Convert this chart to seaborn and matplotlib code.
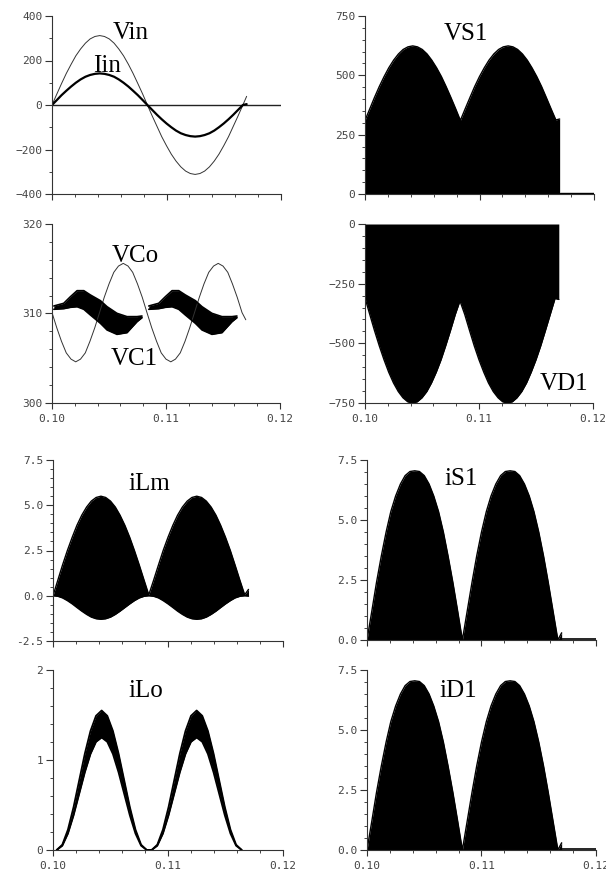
import matplotlib.pyplot as plt
import seaborn as sns
from matplotlib.ticker import MultipleLocator, FixedLocator

# waveforms, time in seconds
t = [0.10000, 0.10042, 0.10083, 0.10125, 0.10167, 0.10208, 0.10250, 0.10292, 0.10333, 0.10375,
     0.10417, 0.10458, 0.10500, 0.10542, 0.10583, 0.10625, 0.10667, 0.10708, 0.10750, 0.10792,
     0.10833, 0.10875, 0.10917, 0.10958, 0.11000, 0.11042, 0.11083, 0.11125, 0.11167, 0.11208,
     0.11250, 0.11292, 0.11333, 0.11375, 0.11417, 0.11458, 0.11500, 0.11542, 0.11583, 0.11625,
     0.11667, 0.11700]

vin = [0, 49, 96, 142, 183, 221, 252, 278, 297, 308, 312, 308, 297, 278, 252, 221, 183, 142, 96, 49,
       0, -49, -96, -142, -183, -221, -252, -278, -297, -308, -312, -308, -297, -278, -252, -221, -183,
       -142, -96, -49, 0, 39]
iin = [0, 22, 44, 64, 83, 100, 115, 127, 135, 140, 142, 140, 135, 127, 115, 100, 83, 64, 44, 22,
       0, -22, -44, -64, -83, -100, -115, -127, -135, -140, -142, -140, -135, -127, -115, -100, -83,
       -64, -44, -22, 0, 4]

vco = [310.1, 308.4, 306.9, 305.6, 304.9, 304.6, 304.9, 305.6, 306.9, 308.4, 310.1, 311.8, 313.3,
       314.6, 315.3, 315.6, 315.3, 314.6, 313.3, 311.8, 310.1, 308.4, 306.9, 305.6, 304.9, 304.6,
       304.9, 305.6, 306.9, 308.4, 310.1, 311.8, 313.3, 314.6, 315.3, 315.6, 315.3, 314.6, 313.3,
       311.8, 310.1, 309.3]

# VC1 ripple band (two segments, 12 samples each)
vc1_t = [0.10016, 0.10103, 0.10162, 0.10220, 0.10279, 0.10337, 0.10425, 0.10483, 0.10570, 0.10658,
         0.10746, 0.10789,
         0.10849, 0.10936, 0.10995, 0.11053, 0.11112, 0.11170, 0.11258, 0.11316, 0.11403, 0.11491,
         0.11579, 0.11622]
vc1_hi = [310.84, 311.14, 311.88, 312.55, 312.55, 312.07, 311.43, 310.76, 310.02, 309.65, 309.65, 309.72,
          310.84, 311.14, 311.88, 312.55, 312.55, 312.07, 311.43, 310.76, 310.02, 309.65, 309.65, 309.72]
vc1_lo = [310.47, 310.54, 310.69, 310.76, 310.47, 309.83, 308.90, 308.16, 307.67, 307.86, 309.09, 309.53,
          310.47, 310.54, 310.69, 310.76, 310.47, 309.83, 308.90, 308.16, 307.67, 307.86, 309.09, 309.53]

vs1 = [310, 359, 407, 453, 495, 532, 564, 590, 609, 620, 624, 620, 609, 590, 564, 532, 495, 453, 407, 359,
       310, 359, 407, 453, 495, 532, 564, 590, 609, 620, 624, 620, 609, 590, 564, 532, 495, 453, 407,
       359, 312, 316]
vd1 = [-310, -379, -446, -510, -569, -621, -666, -702, -728, -745, -750, -745, -728, -702, -666, -621,
       -569, -510, -446, -379, -322, -379, -446, -510, -569, -621, -666, -702, -728, -745, -750, -745,
       -728, -702, -666, -621, -569, -510, -446, -379, -312, -316]

ilm_hi = [0, 0.86, 1.70, 2.50, 3.23, 3.89, 4.45, 4.90, 5.23, 5.43, 5.50, 5.43, 5.23, 4.90, 4.45, 3.89,
          3.23, 2.50, 1.70, 0.86, 0.05, 0.86, 1.70, 2.50, 3.23, 3.89, 4.45, 4.90, 5.23, 5.43, 5.50, 5.43,
          5.23, 4.90, 4.45, 3.89, 3.23, 2.50, 1.70, 0.86, 0.05, 0.35]
ilm_lo = [0, -0.03, -0.12, -0.27, -0.45, -0.65, -0.85, -1.03, -1.18, -1.27, -1.30, -1.27, -1.18, -1.03,
          -0.85, -0.65, -0.45, -0.27, -0.12, -0.03, 0, -0.03, -0.12, -0.27, -0.45, -0.65, -0.85, -1.03,
          -1.18, -1.27, -1.30, -1.27, -1.18, -1.03, -0.85, -0.65, -0.45, -0.27, -0.12, -0.03, 0, -0.02]

is1 = [0, 1.20, 2.40, 3.50, 4.50, 5.35, 6.00, 6.50, 6.85, 7.02, 7.05, 7.02, 6.85, 6.50, 6.00, 5.35, 4.50,
       3.50, 2.40, 1.20, 0, 1.20, 2.40, 3.50, 4.50, 5.35, 6.00, 6.50, 6.85, 7.02, 7.05, 7.02, 6.85, 6.50,
       6.00, 5.35, 4.50, 3.50, 2.40, 1.20, 0, 0.30]
id1 = [0, 1.20, 2.40, 3.50, 4.50, 5.35, 6.00, 6.50, 6.85, 7.02, 7.05, 7.02, 6.85, 6.50, 6.00, 5.35, 4.50,
       3.50, 2.40, 1.20, 0, 1.20, 2.40, 3.50, 4.50, 5.35, 6.00, 6.50, 6.85, 7.02, 7.05, 7.02, 6.85, 6.50,
       6.00, 5.35, 4.50, 3.50, 2.40, 1.20, 0, 0.30]

# iLo conducts over a slightly shorter interval than half a cycle
ilo_t = [0.10032, 0.10081, 0.10130, 0.10179, 0.10228, 0.10277, 0.10326, 0.10374, 0.10423, 0.10472,
         0.10521, 0.10570, 0.10619, 0.10668, 0.10717, 0.10766, 0.10815,
         0.10858, 0.10907, 0.10956, 0.11005, 0.11054, 0.11103, 0.11152, 0.11200, 0.11249, 0.11298,
         0.11347, 0.11396, 0.11445, 0.11494, 0.11543, 0.11592, 0.11641]
ilo_hi = [0, 0.059, 0.227, 0.478, 0.775, 1.072, 1.323, 1.491, 1.55, 1.491, 1.323, 1.072, 0.775, 0.478,
          0.227, 0.059, 0,
          0, 0.059, 0.227, 0.478, 0.775, 1.072, 1.323, 1.491, 1.55, 1.491, 1.323, 1.072, 0.775, 0.478,
          0.227, 0.059, 0]
ilo_lo = [0, 0.048, 0.183, 0.386, 0.625, 0.864, 1.067, 1.202, 1.25, 1.202, 1.067, 0.864, 0.625, 0.386,
          0.183, 0.048, 0,
          0, 0.048, 0.183, 0.386, 0.625, 0.864, 1.067, 1.202, 1.25, 1.202, 1.067, 0.864, 0.625, 0.386,
          0.183, 0.048, 0]

x_ticks = [0.10, 0.11, 0.12]
x_labels = ["0.10", "0.11", "0.12"]

sns.set_style("ticks")
plt.rcParams["font.family"] = ["DejaVu Sans Mono", "DejaVu Sans"]
plt.rcParams["axes.edgecolor"] = "#333333"
plt.rcParams["axes.linewidth"] = 0.8

fig = plt.figure(figsize=(6.06, 8.74), dpi=100)
W, H = 606, 874


def make_ax(x0, x1, top, bottom):
    return fig.add_axes([x0 / W, 1 - bottom / H, (x1 - x0) / W, (bottom - top) / H])


ax1 = make_ax(52, 281, 16, 194)
ax2 = make_ax(365, 594, 16, 194)
ax3 = make_ax(52, 280, 224, 403)
ax4 = make_ax(365, 593, 224, 403)
ax5 = make_ax(53, 283, 460, 641)
ax6 = make_ax(367, 596, 460, 640)
ax7 = make_ax(53, 283, 670, 850)
ax8 = make_ax(367, 596, 670, 850)

lab = dict(family="Liberation Serif", fontsize=18, ha="center", va="baseline", color="black")

# Vin / Iin
ax1.axhline(0, color="#222222", lw=1.0)
sns.lineplot(x=t, y=vin, ax=ax1, color="#333333", lw=0.7, estimator=None)
sns.lineplot(x=t, y=iin, ax=ax1, color="black", lw=1.6, estimator=None)
ax1.text(0.1069, 297, "Vin", **lab)
ax1.text(0.1048, 148, "Iin", **lab)

# VS1
ax2.fill_between(t, 0, vs1, color="black", lw=0)
sns.lineplot(x=t, y=vs1, ax=ax2, color="black", lw=1.0, estimator=None)
ax2.plot([t[-1], 0.12], [6, 6], color="black", lw=1.0)
ax2.text(0.1088, 649, "VS1", **lab)

# VCo / VC1
sns.lineplot(x=t, y=vco, ax=ax3, color="#333333", lw=0.7, estimator=None)
for s in (slice(0, 12), slice(12, 24)):
    ax3.fill_between(vc1_t[s], vc1_lo[s], vc1_hi[s], color="black", lw=0)
    sns.lineplot(x=vc1_t[s], y=vc1_hi[s], ax=ax3, color="black", lw=1.2, estimator=None)
    sns.lineplot(x=vc1_t[s], y=vc1_lo[s], ax=ax3, color="black", lw=1.2, estimator=None)
ax3.text(0.1073, 315.8, "VCo", **lab)
ax3.text(0.1072, 304.25, "VC1", **lab)

# VD1
ax4.fill_between(t, vd1, 0, color="black", lw=0)
sns.lineplot(x=t, y=vd1, ax=ax4, color="black", lw=1.0, estimator=None)
ax4.text(0.1175, -695, "VD1", **lab)

# iLm
ax5.fill_between(t, ilm_lo, ilm_hi, color="black", lw=0)
sns.lineplot(x=t, y=ilm_hi, ax=ax5, color="black", lw=1.0, estimator=None)
sns.lineplot(x=t, y=ilm_lo, ax=ax5, color="black", lw=1.0, estimator=None)
ax5.text(0.10835, 5.84, "iLm", **lab)

# iS1
ax6.fill_between(t, 0, is1, color="black", lw=0)
sns.lineplot(x=t, y=is1, ax=ax6, color="black", lw=1.0, estimator=None)
ax6.plot([t[-1], 0.12], [0.03, 0.03], color="black", lw=1.2)
ax6.text(0.1082, 6.46, "iS1", **lab)

# iLo
ax7.fill_between(ilo_t, ilo_lo, ilo_hi, color="black", lw=0)
sns.lineplot(x=ilo_t, y=ilo_hi, ax=ax7, color="black", lw=1.3, estimator=None)
sns.lineplot(x=ilo_t, y=ilo_lo, ax=ax7, color="black", lw=1.3, estimator=None)
ax7.text(0.1081, 1.70, "iLo", **lab)

# iD1
ax8.fill_between(t, 0, id1, color="black", lw=0)
sns.lineplot(x=t, y=id1, ax=ax8, color="black", lw=1.0, estimator=None)
ax8.plot([t[-1], 0.12], [0.03, 0.03], color="black", lw=1.2)
ax8.text(0.10795, 6.39, "iD1", **lab)

# axes limits and ticks
ylims = [(-400, 400), (0, 750), (300, 320), (-750, 0), (-2.5, 7.5), (0, 7.5), (0, 2), (0, 7.5)]
ymaj = [200, 250, 10, 250, 2.5, 2.5, 1, 2.5]
ymin = [100, 50, 2, 50, 0.5, 0.5, 0.2, 0.5]
axes = [ax1, ax2, ax3, ax4, ax5, ax6, ax7, ax8]
for i, ax in enumerate(axes):
    ax.set_xlim(0.10, 0.12)
    ax.set_ylim(*ylims[i])
    ax.xaxis.set_major_locator(FixedLocator(x_ticks))
    ax.xaxis.set_minor_locator(MultipleLocator(0.002))
    ax.yaxis.set_major_locator(MultipleLocator(ymaj[i]))
    ax.yaxis.set_minor_locator(MultipleLocator(ymin[i]))
    if i in (1, 5, 7):
        ax.yaxis.set_major_formatter(plt.FormatStrFormatter("%.0f") if i == 1 else plt.FormatStrFormatter("%.1f"))
    if i == 4:
        ax.yaxis.set_major_formatter(plt.FormatStrFormatter("%.1f"))
    if i in (2, 3, 6, 7):
        ax.set_xticklabels(x_labels)
    else:
        ax.set_xticklabels([])
    ax.tick_params(axis="both", which="major", length=5, width=0.8, color="#333333",
                   labelsize=8, labelcolor="#444444", pad=2)
    ax.tick_params(axis="both", which="minor", length=2.5, width=0.7, color="#444444")
    ax.tick_params(axis="x", which="major", length=4, pad=4)
    ax.set_xlabel("")
    ax.set_ylabel("")
    sns.despine(ax=ax)

fig.savefig("out.png", dpi=100)
